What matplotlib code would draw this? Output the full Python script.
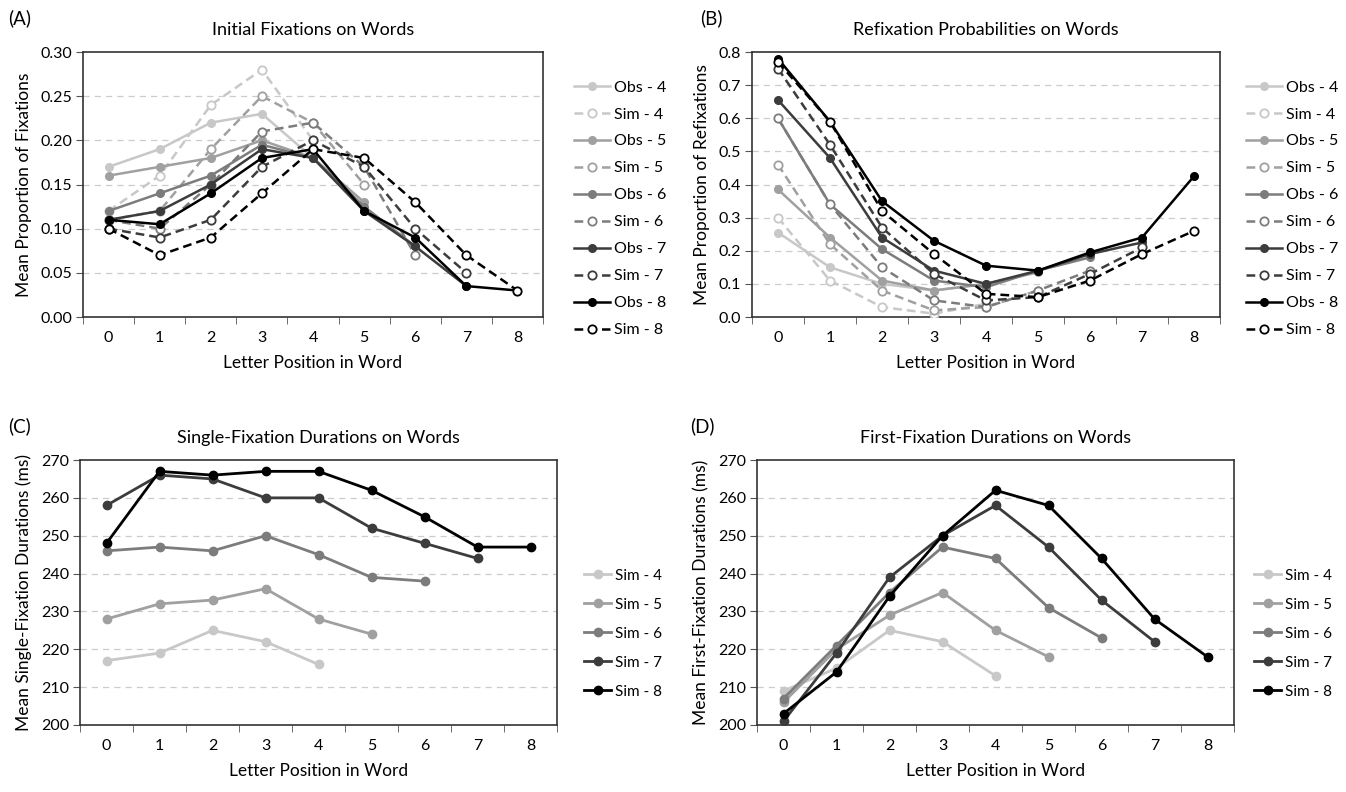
import numpy as np
import matplotlib
matplotlib.use("Agg")
import matplotlib.pyplot as plt

plt.rcParams['font.family'] = ['Lato', 'DejaVu Sans']

# letter positions
pos = list(range(9))
lengths = [4, 5, 6, 7, 8]
greys = ['#c8c8c8', '#a0a0a0', '#7c7c7c', '#3c3c3c', '#000000']

# (A) initial fixation proportions
init_obs = {
    4: [0.17, 0.19, 0.22, 0.23, 0.18],
    5: [0.16, 0.17, 0.18, 0.20, 0.18, 0.13],
    6: [0.12, 0.14, 0.16, 0.195, 0.18, 0.125, 0.08],
    7: [0.11, 0.12, 0.15, 0.19, 0.18, 0.12, 0.08, 0.035],
    8: [0.11, 0.105, 0.14, 0.18, 0.19, 0.12, 0.09, 0.035, 0.03],
}
init_sim = {
    4: [0.12, 0.16, 0.24, 0.28, 0.20],
    5: [0.11, 0.12, 0.19, 0.25, 0.22, 0.15],
    6: [0.11, 0.10, 0.15, 0.21, 0.22, 0.17, 0.07],
    7: [0.10, 0.09, 0.11, 0.17, 0.20, 0.17, 0.10, 0.05],
    8: [0.10, 0.07, 0.09, 0.14, 0.19, 0.18, 0.13, 0.07, 0.03],
}

# (B) refixation probabilities
refix_obs = {
    4: [0.255, 0.15, 0.10, 0.08, 0.10],
    5: [0.385, 0.24, 0.11, 0.08, 0.10, 0.135],
    6: [0.60, 0.34, 0.205, 0.11, 0.09, 0.14, 0.18],
    7: [0.655, 0.48, 0.24, 0.14, 0.10, 0.14, 0.19, 0.225],
    8: [0.78, 0.59, 0.35, 0.23, 0.155, 0.14, 0.195, 0.24, 0.425],
}
refix_sim = {
    4: [0.30, 0.11, 0.03, 0.01, 0.04],
    5: [0.46, 0.22, 0.08, 0.02, 0.03, 0.08],
    6: [0.60, 0.34, 0.15, 0.05, 0.03, 0.08, 0.14],
    7: [0.75, 0.52, 0.27, 0.13, 0.05, 0.06, 0.13, 0.21],
    8: [0.77, 0.59, 0.32, 0.19, 0.07, 0.06, 0.11, 0.19, 0.26],
}

# (C) single-fixation durations (ms)
sfd_sim = {
    4: [217, 219, 225, 222, 216],
    5: [228, 232, 233, 236, 228, 224],
    6: [246, 247, 246, 250, 245, 239, 238],
    7: [258, 266, 265, 260, 260, 252, 248, 244],
    8: [248, 267, 266, 267, 267, 262, 255, 247, 247],
}

# (D) first-fixation durations (ms)
ffd_sim = {
    4: [209, 215, 225, 222, 213],
    5: [206, 220, 229, 235, 225, 218],
    6: [207, 221, 235, 247, 244, 231, 223],
    7: [201, 219, 239, 250, 258, 247, 233, 222],
    8: [203, 214, 234, 250, 262, 258, 244, 228, 218],
}

fig = plt.figure(figsize=(13.46, 7.92), dpi=100)
W, H = 1346, 792


def make_ax(l, t, r, b):
    return fig.add_axes([l / W, 1 - b / H, (r - l) / W, (b - t) / H])


def style(ax, ylim, yticks, fmt, title, ylabel, letter, lx):
    ax.set_xlim(-0.5, 8.5)
    ax.set_ylim(*ylim)
    ax.set_yticks(yticks)
    ax.set_yticklabels([fmt.format(v) for v in yticks], fontsize=11.5)
    ax.set_xticks(pos)
    ax.set_xticklabels([str(p) for p in pos], fontsize=11.5)
    ax.set_xticks(np.arange(-0.5, 9, 1), minor=True)
    ax.tick_params(axis='x', which='major', length=0, pad=10)
    ax.tick_params(axis='x', which='minor', length=5, direction='out', color='#555555')
    ax.tick_params(axis='y', length=5, direction='out', color='#555555', pad=3)
    for v in yticks[1:-1]:
        ax.axhline(v, color='#cccccc', lw=0.9, ls=(0, (5, 4)), zorder=0)
    for s in ax.spines.values():
        s.set_color('#333333')
        s.set_linewidth(1.2)
    ax.set_title(title, fontsize=13, pad=12)
    ax.set_xlabel('Letter Position in Word', fontsize=12.5, labelpad=7)
    ax.set_ylabel(ylabel, fontsize=12.5, labelpad=6)
    bb = ax.get_position()
    fig.text(lx / W, bb.y1 + 0.043, letter, fontsize=13.5, va='center', ha='left')


def plot_obs_sim(ax, obs, sim):
    for n, c in zip(lengths, greys):
        ax.plot(pos[:n + 1], obs[n], color=c, lw=1.8, marker='o', ms=5.5,
                mfc=c, mec=c, label=f'Obs - {n}', zorder=3)
        ax.plot(pos[:n + 1], sim[n], color=c, lw=1.8, ls=(0, (3.5, 2)), marker='o',
                ms=6, mfc='white', mec=c, mew=1.3, label=f'Sim - {n}', zorder=3)


def plot_sim(ax, sim):
    for n, c in zip(lengths, greys):
        ax.plot(pos[:n + 1], sim[n], color=c, lw=2, marker='o', ms=6,
                mfc=c, mec=c, label=f'Sim - {n}', zorder=3)


leg_ab = dict(frameon=False, fontsize=11.5, handlelength=2.2, handletextpad=0.3, labelspacing=0.8)
leg_cd = dict(frameon=False, fontsize=11, handlelength=1.8, handletextpad=0.25, labelspacing=0.98)

axA = make_ax(83, 52, 543, 317)
plot_obs_sim(axA, init_obs, init_sim)
style(axA, (0, 0.30), [0, 0.05, 0.10, 0.15, 0.20, 0.25, 0.30], '{:.2f}',
      'Initial Fixations on Words', 'Mean Proportion of Fixations', '(A)', 8)
axA.legend(loc='upper left', bbox_to_anchor=(560 / W, 1 - 66 / H), bbox_transform=fig.transFigure,
           **leg_ab)

axB = make_ax(752, 52, 1220, 317)
plot_obs_sim(axB, refix_obs, refix_sim)
style(axB, (0, 0.8), [0, 0.1, 0.2, 0.3, 0.4, 0.5, 0.6, 0.7, 0.8], '{:.1f}',
      'Refixation Probabilities on Words', 'Mean Proportion of Refixations', '(B)', 700)
axB.legend(loc='upper left', bbox_to_anchor=(1232 / W, 1 - 66 / H), bbox_transform=fig.transFigure,
           **leg_ab)

axC = make_ax(80, 460, 557, 725)
plot_sim(axC, sfd_sim)
style(axC, (200, 270), list(range(200, 271, 10)), '{:d}',
      'Single-Fixation Durations on Words', 'Mean Single-Fixation Durations (ms)', '(C)', 8)
axC.legend(loc='upper left', bbox_to_anchor=(570 / W, 1 - 555 / H), bbox_transform=fig.transFigure,
           **leg_cd)

axD = make_ax(757, 460, 1234, 725)
plot_sim(axD, ffd_sim)
style(axD, (200, 270), list(range(200, 271, 10)), '{:d}',
      'First-Fixation Durations on Words', 'Mean First-Fixation Durations (ms)', '(D)', 690)
axD.legend(loc='upper left', bbox_to_anchor=(1240 / W, 1 - 555 / H), bbox_transform=fig.transFigure,
           **leg_cd)

fig.savefig('out.png', dpi=100)
